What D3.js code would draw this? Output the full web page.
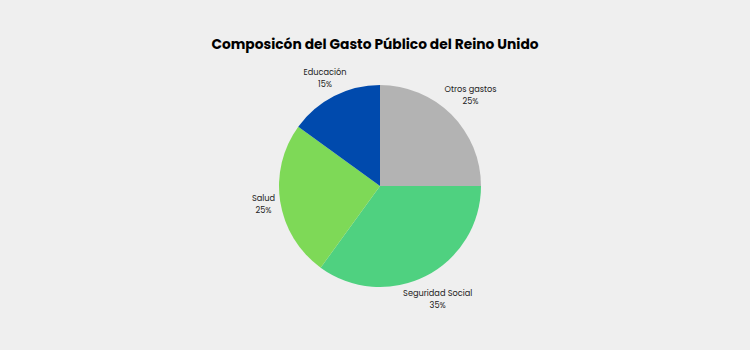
<!DOCTYPE html>
<html>
<head>
<meta charset="utf-8">
<script src="https://cdn.jsdelivr.net/npm/d3@7"></script>
<style>
  body { margin: 0; background: #efefef; }
  svg { display: block; }
</style>
</head>
<body>
<div id="chart"></div>
<script>
var categories = ['Otros gastos', 'Seguridad Social', 'Salud', 'Educación']
var values = [25, 35, 25, 15]
var colors = ['#b3b3b3', '#4fd180', '#7ed957', '#004aad']
var title = 'Composicón del Gasto Público del Reino Unido'

var width = 750, height = 350
var cx = 380, cy = 186, r = 101
// distance of each label block's centre from the pie centre
var labelR = [128, 127, 118, 121]

var svg = d3.select('#chart').append('svg')
  .attr('width', width).attr('height', height)

svg.append('rect')
  .attr('width', width).attr('height', height)
  .attr('fill', '#efefef')

svg.append('text')
  .attr('x', 375).attr('y', 48.5)
  .attr('text-anchor', 'middle')
  .attr('font-family', 'Poppins, Inter, sans-serif')
  .attr('font-weight', 700)
  .attr('font-size', 13.8)
  .attr('fill', '#000')
  .text(title)

var data = categories.map((d, i) => ({name: d, value: values[i], color: colors[i], i}))

var pie = d3.pie().sort(null).value(d => d.value)
var arcs = pie(data)

var arc = d3.arc().innerRadius(0).outerRadius(r)

var g = svg.append('g').attr('transform', `translate(${cx},${cy})`)

g.selectAll('path')
  .data(arcs)
  .join('path')
  .attr('d', arc)
  .attr('fill', d => d.data.color)

function labelPos(d){
  var a = (d.startAngle + d.endAngle) / 2
  var R = labelR[d.data.i]
  return [Math.sin(a) * R, -Math.cos(a) * R]
}

var labels = g.selectAll('text.lbl')
  .data(arcs)
  .join('text')
  .attr('class', 'lbl')
  .attr('transform', d => `translate(${labelPos(d)})`)
  .attr('text-anchor', 'middle')
  .attr('font-family', 'Poppins, Inter, sans-serif')
  .attr('font-size', 8.2)
  .attr('fill', '#222')

labels.append('tspan')
  .attr('x', 0).attr('y', -3)
  .text(d => d.data.name)
labels.append('tspan')
  .attr('x', 0).attr('y', 9)
  .text(d => d.data.value + '%')
</script>
</body>
</html>
